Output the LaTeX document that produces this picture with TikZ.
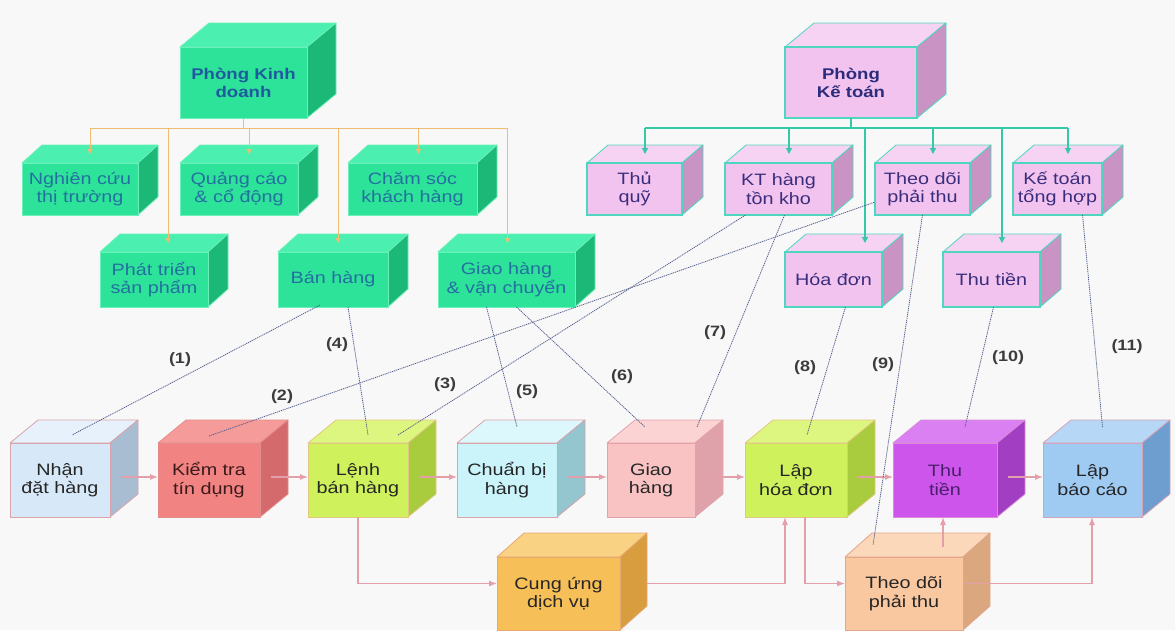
\documentclass[tikz,border=0pt]{standalone}
\usepackage{fontspec}
\newfontfamily\boxfont[FakeStretch=1.2]{Liberation Sans}
\usetikzlibrary{arrows.meta}
% colours: F front, T top, S side, E edge, X text
\definecolor{bgC}{HTML}{F8F8F8}
\definecolor{gF}{HTML}{2DE39A}\definecolor{gT}{HTML}{4BEFB0}\definecolor{gS}{HTML}{1CB877}\definecolor{gE}{HTML}{6AF0B8}\definecolor{gX}{HTML}{2470A0}
\definecolor{pF}{HTML}{F3C3EF}\definecolor{pT}{HTML}{F6D3F3}\definecolor{pS}{HTML}{C994C3}\definecolor{pE}{HTML}{4FD6BE}\definecolor{pX}{HTML}{3A2E7C}
\definecolor{hdrG}{HTML}{1F5A9E}\definecolor{hdrP}{HTML}{2C2C7C}
\definecolor{nhanF}{HTML}{D7E9F9}\definecolor{nhanT}{HTML}{E6F1FB}\definecolor{nhanS}{HTML}{A8BDD2}\definecolor{nhanE}{HTML}{D9A3AC}\definecolor{nhanX}{HTML}{262626}
\definecolor{kiemF}{HTML}{F28383}\definecolor{kiemT}{HTML}{F59C9A}\definecolor{kiemS}{HTML}{D46A6C}\definecolor{kiemE}{HTML}{E48C8C}\definecolor{kiemX}{HTML}{3A1A1A}
\definecolor{lenhF}{HTML}{CFF25C}\definecolor{lenhT}{HTML}{DDF680}\definecolor{lenhS}{HTML}{A9CC3E}\definecolor{lenhE}{HTML}{E0C880}\definecolor{lenhX}{HTML}{262626}
\definecolor{chuanF}{HTML}{CBF3FA}\definecolor{chuanT}{HTML}{DDF8FC}\definecolor{chuanS}{HTML}{93C6CE}\definecolor{chuanE}{HTML}{D9A3AC}\definecolor{chuanX}{HTML}{262626}
\definecolor{giaoF}{HTML}{F9C2C3}\definecolor{giaoT}{HTML}{FBD3D3}\definecolor{giaoS}{HTML}{E0A2AA}\definecolor{giaoE}{HTML}{E3A2AA}\definecolor{giaoX}{HTML}{262626}
\definecolor{thutF}{HTML}{CD55EC}\definecolor{thutT}{HTML}{DA80F2}\definecolor{thutS}{HTML}{A23EC2}\definecolor{thutE}{HTML}{D98AD8}\definecolor{thutX}{HTML}{4A1F6B}
\definecolor{lapbcF}{HTML}{9FCAF2}\definecolor{lapbcT}{HTML}{B6D7F6}\definecolor{lapbcS}{HTML}{6E9DCF}\definecolor{lapbcE}{HTML}{D3A3B8}\definecolor{lapbcX}{HTML}{262626}
\definecolor{cungF}{HTML}{F7BF57}\definecolor{cungT}{HTML}{FAD283}\definecolor{cungS}{HTML}{D79D3E}\definecolor{cungE}{HTML}{E8A870}\definecolor{cungX}{HTML}{262626}
\definecolor{theobF}{HTML}{F9C8A0}\definecolor{theobT}{HTML}{FBD8B9}\definecolor{theobS}{HTML}{DBA77F}\definecolor{theobE}{HTML}{E3A58C}\definecolor{theobX}{HTML}{262626}
\definecolor{gtreeC}{HTML}{F0BC70}\definecolor{ptreeC}{HTML}{35C9A5}
\definecolor{dotC}{HTML}{56608E}\definecolor{arrC}{HTML}{E4A0AA}\definecolor{lblC}{HTML}{3C3C3C}
\newcommand{\cdx}{20}\newcommand{\cdy}{18}
% #1 name, #2 x1, #3 y1, #4 x2, #5 y2, #6 colour prefix, #7 extra options, #8 text
\newcommand{\cuboid}[8]{%
  \filldraw[fill=#6T,draw=#6E,line width=0.8pt,line join=round] (#2,#3) -- ({#2+\cdx},{#3-\cdy}) -- ({#4+\cdx},{#3-\cdy}) -- (#4,#3) -- cycle;
  \filldraw[fill=#6S,draw=#6E,line width=0.8pt,line join=round] (#4,#3) -- ({#4+\cdx},{#3-\cdy}) -- ({#4+\cdx},{#5-\cdy}) -- (#4,#5) -- cycle;
  \node[boxnode,draw=#6E,fill=#6F,text=#6X,minimum width={#4-#2},minimum height={#5-#3},anchor=north west,#7] (#1) at (#2,#3) {#8};
  \coordinate (#1-top) at ({(#2+#4+\cdx)/2},{#3-\cdy/2});
}
\begin{document}
\begin{tikzpicture}[x=1pt,y=-1pt,
  boxnode/.style={inner sep=0pt,outer sep=0pt,align=center,line width=0.8pt,font=\boxfont\fontsize{16.5}{18.5}\selectfont},
  hdr/.style={font=\boxfont\bfseries\fontsize{15.5}{18}\selectfont},
  gtree/.style={draw=gtreeC,line width=0.9pt},
  ptree/.style={draw=ptreeC,line width=1.1pt},
  gtip/.style={-{Triangle[length=5pt,width=5pt]}},
  ptip/.style={-{Triangle[length=6pt,width=6pt]}},
  dot/.style={draw=dotC,line width=0.8pt,dash pattern=on 1.2pt off 0.8pt},
  parrow/.style={draw=arrC,line width=1.1pt,-{Latex[length=8pt,width=6pt]}},
  lbl/.style={inner sep=0pt,text=lblC,font=\boxfont\bfseries\fontsize{15}{15}\selectfont}]
\useasboundingbox[fill=bgC] (0,0) rectangle (1175,630);

% ---------- Phong Kinh doanh tree ----------
\renewcommand{\cdx}{29}\renewcommand{\cdy}{24}
\cuboid{pkd}{180}{47}{307}{118}{g}{hdr,text=hdrG}{Phòng Kinh\\doanh}
\cuboid{pkt}{785}{47}{917}{118}{p}{hdr,text=hdrP,draw=pE,line width=1.2pt}{Phòng\\Kế toán}
\renewcommand{\cdx}{20}\renewcommand{\cdy}{18}
\cuboid{nghien}{22}{163}{138}{215}{g}{}{Nghiên cứu\\thị trường}
\cuboid{quangcao}{180}{163}{298}{215}{g}{}{Quảng cáo\\\& cổ động}
\cuboid{chamsoc}{348}{163}{477}{215}{g}{}{Chăm sóc\\khách hàng}
\cuboid{phattrien}{100}{252}{208}{307}{g}{}{Phát triển\\sản phẩm}
\cuboid{banhang}{278}{252}{388}{307}{g}{}{Bán hàng}
\cuboid{giaovc}{438}{252}{575}{307}{g}{}{Giao hàng\\\& vận chuyển}
% ---------- Phong Ke toan tree ----------
\renewcommand{\cdx}{21}
\cuboid{thuquy}{587}{163}{682}{215}{p}{line width=1.2pt}{Thủ\\quỹ}
\cuboid{kthang}{725}{163}{832}{215}{p}{line width=1.2pt}{KT hàng\\tồn kho}
\cuboid{theodoi}{875}{163}{970}{215}{p}{line width=1.2pt}{Theo dõi\\phải thu}
\cuboid{kttonghop}{1013}{163}{1102}{215}{p}{line width=1.2pt}{Kế toán\\tổng hợp}
\cuboid{hoadon}{785}{252}{882}{307}{p}{line width=1.2pt}{Hóa đơn}
\cuboid{thutienp}{943}{252}{1040}{307}{p}{line width=1.2pt}{Thu tiền}
% ---------- process row ----------
\renewcommand{\cdx}{28}\renewcommand{\cdy}{23}
\cuboid{nhan}{10}{443}{110}{517}{nhan}{}{Nhận\\đặt hàng}
\cuboid{kiemtra}{158}{443}{260}{517}{kiem}{}{Kiểm tra\\tín dụng}
\cuboid{lenh}{308}{443}{408}{517}{lenh}{}{Lệnh\\bán hàng}
\cuboid{chuanbi}{457}{443}{557}{517}{chuan}{}{Chuẩn bị\\hàng}
\cuboid{giao}{607}{443}{695}{517}{giao}{}{Giao\\hàng}
\cuboid{laphd}{745}{443}{847}{517}{lenh}{}{Lập\\hóa đơn}
\cuboid{thutien}{893}{443}{997}{517}{thut}{}{Thu\\tiền}
\cuboid{lapbc}{1043}{443}{1142}{517}{lapbc}{}{Lập\\báo cáo}
\renewcommand{\cdx}{27}\renewcommand{\cdy}{24}
\cuboid{cungung}{497}{557}{620}{630}{cung}{}{Cung ứng\\dịch vụ}
\cuboid{theodoib}{845}{557}{963}{630}{theob}{}{Theo dõi\\phải thu}

% ---------- tree connectors ----------
\coordinate (gbus) at (248,128);
\coordinate (pbus) at (851,128);
\coordinate (giaovc-t) at ([xshift=-9pt]giaovc-top);
\coordinate (banhang-t) at ([xshift=-5pt]banhang-top);
\coordinate (phattrien-t) at ([xshift=4pt]phattrien-top);
\coordinate (chamsoc-t) at ([xshift=-4pt]chamsoc-top);
\coordinate (hoadon-t) at ([xshift=21pt]hoadon-top);
\draw[gtree] (pkd.south) -- (pkd.south |- gbus);
\draw[gtree] (gbus -| nghien-top) -- (gbus -| giaovc-t);
\foreach \t in {nghien-top,quangcao-top,chamsoc-t,phattrien-t,banhang-t,giaovc-t}
  \draw[gtree,gtip] (gbus -| \t) -- (\t);
\draw[ptree] (pkt.south) -- (pkt.south |- pbus);
\draw[ptree] (pbus -| thuquy-top) -- (pbus -| kttonghop-top);
\foreach \t in {thuquy-top,kthang-top,theodoi-top,kttonghop-top,hoadon-t,thutienp-top}
  \draw[ptree,ptip] (pbus -| \t) -- (\t);

% ---------- process arrows ----------
\foreach \a/\b in {nhan/kiemtra,kiemtra/lenh,lenh/chuanbi,chuanbi/giao,giao/laphd,laphd/thutien,thutien/lapbc}
  \draw[parrow] ([shift={(11,-3)}]\a.east) -- ([shift={(0,-3)}]\b.west);
\draw[parrow] (lenh.south) |- ([shift={(0,-10)}]cungung.west);
\draw[parrow] ([shift={(27,-10)}]cungung.east) -| ([shift={(-11,0)}]laphd.south);
\draw[parrow] ([shift={(9,0)}]laphd.south) |- ([shift={(0,-10)}]theodoib.west);
\draw[parrow] ([shift={(39,-10)}]theodoib.north) -- ([shift={(-2,0)}]thutien.south);
\draw[parrow] ([shift={(0,-10)}]theodoib.east) -| ([shift={(-0.5,0)}]lapbc.south);

% ---------- dotted relations ----------
\draw[dot] ([shift={(-13,-2)}]banhang.south) -- ([shift={(12,-8)}]nhan.north);
\draw[dot] ([shift={(0,-7)}]kiemtra.north) -- ([shift={(0,-13)}]theodoi.south west);
\draw[dot] ([shift={(40,-8)}]lenh.north) -- ([shift={(-33,0)}]kthang.south);
\draw[dot] ([shift={(15,0)}]banhang.south) -- ([shift={(10,-8)}]lenh.north);
\draw[dot] ([shift={(-20,0)}]giaovc.south) -- ([shift={(10,-16)}]chuanbi.north);
\draw[dot] ([shift={(10,0)}]giaovc.south) -- ([shift={(-6,-16)}]giao.north);
\draw[dot] ([shift={(6,0)}]kthang.south) -- ([shift={(46,-16)}]giao.north);
\draw[dot] ([shift={(12,0)}]hoadon.south) -- ([shift={(11,-8)}]laphd.north);
\draw[dot] (theodoi.south) -- ([shift={(-31,-12)}]theodoib.north);
\draw[dot] ([shift={(2,0)}]thutienp.south) -- ([shift={(20,-16)}]thutien.north);
\draw[dot] ([shift={(25,0)}]kttonghop.south) -- ([shift={(10,-16)}]lapbc.north);

% ---------- labels ----------
\node[lbl] (l1) at (180,360) {(1)};
\node[lbl] (l2) at (282,397) {(2)};
\node[lbl] (l3) at (445,385) {(3)};
\node[lbl] (l4) at (337,345) {(4)};
\node[lbl] (l5) at (527,392) {(5)};
\node[lbl] (l6) at (622,377) {(6)};
\node[lbl] (l7) at (715,333) {(7)};
\node[lbl] (l8) at (805,368) {(8)};
\node[lbl] (l9) at (883,365) {(9)};
\node[lbl] (l10) at (1008,358) {(10)};
\node[lbl] (l11) at (1127,347) {(11)};
\end{tikzpicture}
\end{document}
